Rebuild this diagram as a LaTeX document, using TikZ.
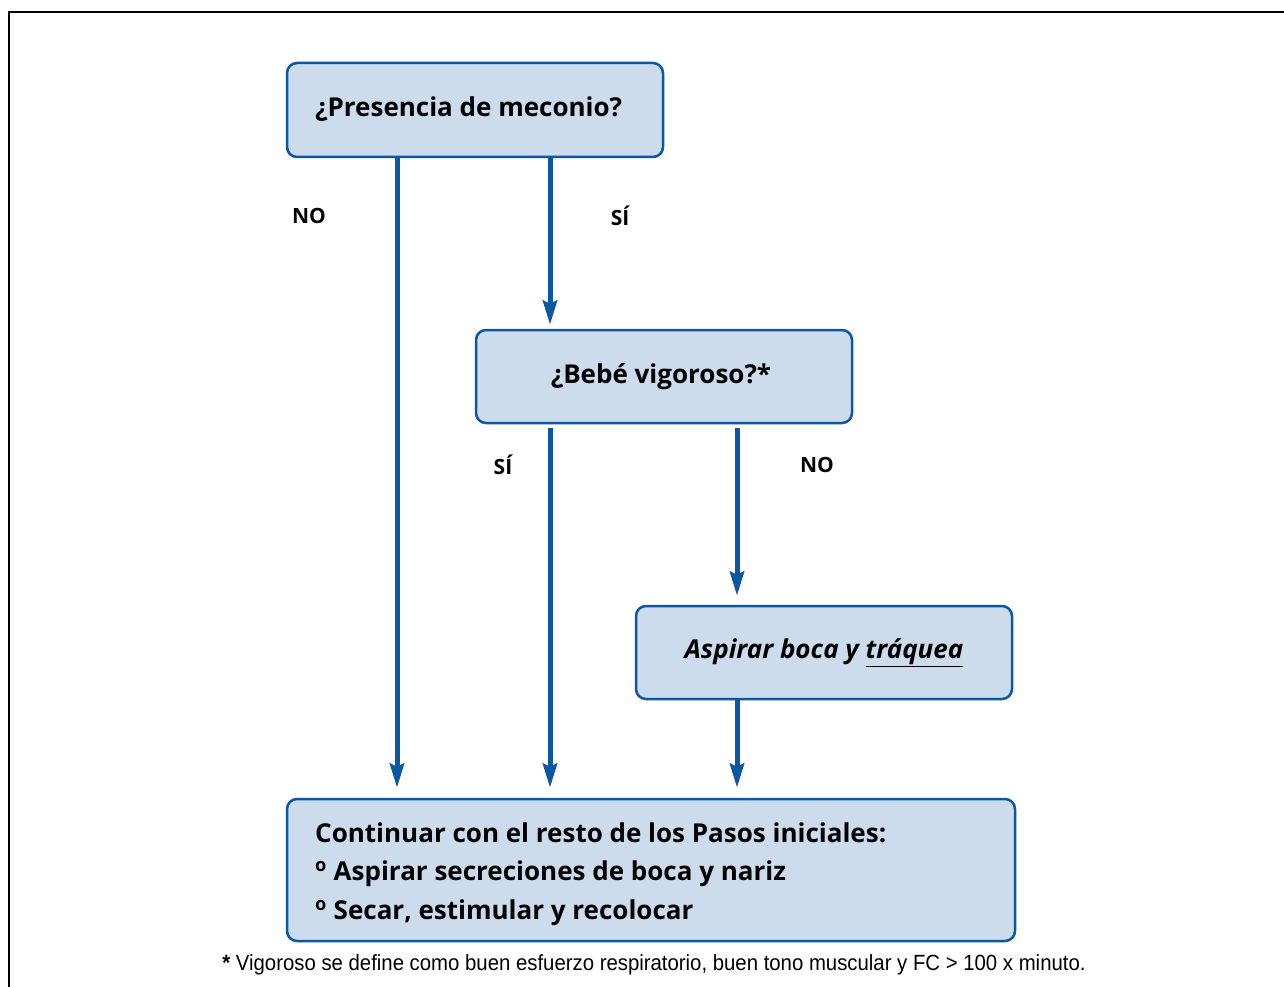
\documentclass[tikz,border=0pt]{standalone}
\usepackage{fontspec}
\setmainfont{Open Sans}
\newfontfamily\condfont[FakeStretch=0.925]{Liberation Sans}
\usetikzlibrary{arrows.meta}
\definecolor{boxblue}{HTML}{0B57A4}
\definecolor{boxfill}{HTML}{CCDCEC}
\begin{document}
\begin{tikzpicture}[x=1pt,y=-1pt,
  box/.style={draw=boxblue,line width=2.5pt,fill=boxfill,rounded corners=10pt,inner sep=0pt,
    font=\fontsize{26}{38}\selectfont\bfseries},
  arr/.style={draw=boxblue,line width=5pt,-{Stealth[length=24pt,width=14pt,inset=3pt]}},
  lbl/.style={font=\fontsize{21}{24}\selectfont\bfseries}]
\useasboundingbox (0,0) rectangle (1284,987);
\draw[line width=2.5pt] (9,987) -- (9,12) -- (1290,12);
\node[box,minimum width=376pt,minimum height=94pt] (b1) at (475,110) {};
\node[font=\fontsize{26}{38}\selectfont\bfseries,anchor=west,inner sep=0pt] (t1) at (315,109) {¿Presencia de meconio?};
\node[box,minimum width=376pt,minimum height=93pt] (b2) at (664,376.5) {\hspace*{-6pt}¿Bebé vigoroso?*};
\node[box,minimum width=376pt,minimum height=93pt] (b3) at (824,652.5) {\itshape Aspirar boca y \underline{tráquea}};
\node[box,minimum width=728pt,minimum height=142pt] (b4) at (651,870) {};
\node[font=\fontsize{26}{38.5}\selectfont\bfseries,anchor=west,align=left,inner sep=0pt] (t4) at (315,874)
  {Continuar con el resto de los Pasos iniciales:\\
   \textsuperscript{o} Aspirar secreciones de boca y nariz\\
   \textsuperscript{o} Secar, estimular y recolocar};
\node[font=\fontsize{22}{24}\condfont] (fn) at (654,965) {\textbf{*} Vigoroso se define como buen esfuerzo respiratorio, buen tono muscular y FC > 100 x minuto.};
\coordinate (xa) at (397,0);
\coordinate (xb) at (550,0);
\coordinate (xc) at (737,0);
\draw[arr] (b1.south -| xa) -- ([yshift=10pt]b4.north -| xa);
\draw[arr] (b1.south -| xb) -- ([yshift=4pt]b2.north -| xb);
\draw[arr] ([yshift=-4pt]b2.south -| xb) -- ([yshift=10pt]b4.north -| xb);
\draw[arr] ([yshift=-4pt]b2.south -| xc) -- ([yshift=9pt]b3.north -| xc);
\draw[arr] (b3.south -| xc) -- ([yshift=10pt]b4.north -| xc);
\node[lbl] (l1) at (309,216) {NO};
\node[lbl] (l2) at (620,216) {SÍ};
\node[lbl] (l3) at (503,465) {SÍ};
\node[lbl] (l4) at (817,465) {NO};
\end{tikzpicture}
\end{document}
